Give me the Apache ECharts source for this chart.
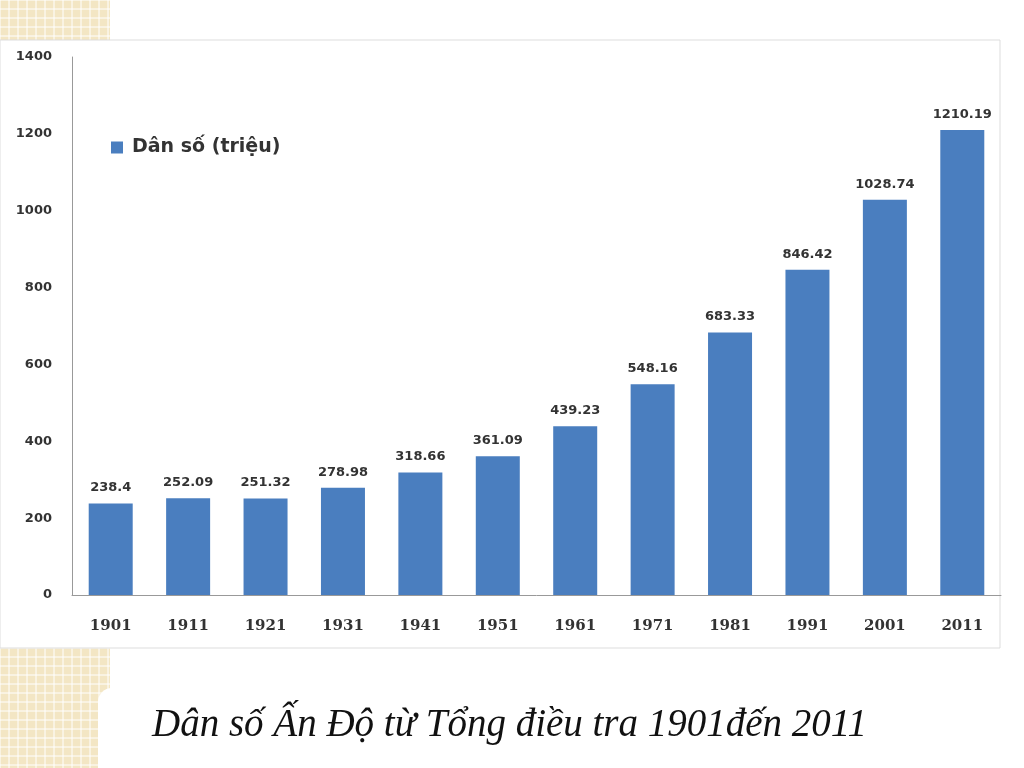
<!DOCTYPE html>
<html><head><meta charset="utf-8">
<script src="https://cdn.jsdelivr.net/npm/echarts@6/dist/echarts.min.js"></script>
<style>html,body{margin:0;padding:0;background:#fff}#main{width:1024px;height:768px}</style>
</head><body><div id="main"></div>
<script>
var years = ['1901','1911','1921','1931','1941','1951','1961','1971','1981','1991','2001','2011'];
var population = [238.4, 252.09, 251.32, 278.98, 318.66, 361.09, 439.23, 548.16, 683.33, 846.42, 1028.74, 1210.19];
var seriesName = 'Dân số (triệu)';
var caption = 'Dân số Ấn Độ từ Tổng điều tra 1901đến 2011';

var chart = echarts.init(document.getElementById('main'));
// ô kẻ màu be ở góc trái
var deco = [];
function grid(x0, y0, w, h) {
    deco.push({type:'rect', shape:{x:x0,y:y0,width:w,height:h}, style:{fill:'#f3e6c4'}, z:-2});
    for (var x = x0; x <= x0 + w; x += 9) deco.push({type:'line', shape:{x1:x,y1:y0,x2:x,y2:y0+h}, style:{stroke:'#fff',lineWidth:1}, z:-1});
    for (var y = y0; y <= y0 + h; y += 9) deco.push({type:'line', shape:{x1:x0,y1:y,x2:x0+w,y2:y}, style:{stroke:'#fff',lineWidth:1}, z:-1});
}
grid(0, 0, 110, 42);
grid(0, 648, 110, 120);
deco.push({type:'rect', shape:{x:0,y:40,width:1000,height:608}, style:{fill:'#fff',stroke:'#ddd'}, z:0});
deco.push({type:'rect', shape:{x:98,y:688,width:926,height:80,r:[14,0,0,0]}, style:{fill:'#fff'}, z:0});
deco.push({type:'text', left:152, top:706, style:{text:caption, font:'italic 39px "Liberation Serif"', fill:'#111'}, z:2});

var option = {
    animation: false,
    graphic: deco,
    grid: {left:72, right:23, top:57, bottom:173},
    legend: {
        data:[seriesName], left:106, top:133, icon:'rect', itemWidth:12, itemHeight:12, itemGap:10,
        textStyle:{fontSize:19, fontWeight:'bold', color:'#333', fontFamily:'DejaVu Sans', padding:[0,0,0,4]}
    },
    xAxis: {
        type:'category', data:years,
        axisLine:{lineStyle:{color:'#999'}}, axisTick:{show:false},
        axisLabel:{fontSize:15, fontWeight:'bold', color:'#333', margin:24, fontFamily:'DejaVu Serif'}
    },
    yAxis: {
        type:'value', min:0, max:1400, interval:200,
        splitLine:{show:false},
        axisLine:{show:true, lineStyle:{color:'#999'}},
        axisLabel:{fontSize:13, fontWeight:'bold', color:'#333', margin:20, fontFamily:'DejaVu Sans',
            formatter:function(v){return String(v);}}
    },
    series: [{
        name: seriesName, type:'bar', data:population, barWidth:44,
        itemStyle:{color:'#4a7ebf'},
        label:{show:true, position:'top', distance:9, fontSize:13, fontWeight:'bold', color:'#333', fontFamily:'DejaVu Sans'}
    }]
};
chart.setOption(option);
</script></body></html>
